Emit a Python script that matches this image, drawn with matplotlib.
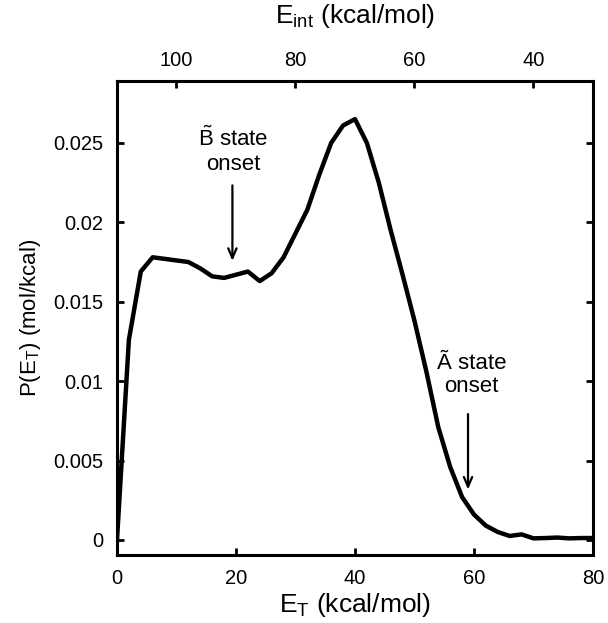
import matplotlib
matplotlib.use('Agg')
import matplotlib.pyplot as plt
from matplotlib.ticker import FormatStrFormatter

plt.rcParams['font.family'] = ['Liberation Sans', 'DejaVu Sans']
plt.rcParams['mathtext.fontset'] = 'custom'
plt.rcParams['mathtext.rm'] = 'Liberation Sans'
plt.rcParams['mathtext.it'] = 'Liberation Sans'

# translational energy distribution
e_t = [0, 2, 4, 6, 8, 10, 12, 14, 16, 18, 20, 22, 24, 26, 28, 30, 32, 34, 36, 38, 40,
       42, 44, 46, 48, 50, 52, 54, 56, 58, 60, 62, 64, 66, 68, 70, 72, 74, 76, 78, 80]
p_et = [0, 0.0126, 0.0169, 0.0178, 0.0177, 0.0176, 0.0175, 0.0171, 0.0166, 0.0165, 0.0167,
        0.0169, 0.0163, 0.0168, 0.0178, 0.0193, 0.0208, 0.0230, 0.0250, 0.0261, 0.0265,
        0.0250, 0.0225, 0.0195, 0.0167, 0.0138, 0.0106, 0.0071, 0.0046, 0.0027, 0.0016,
        0.0009, 0.0005, 0.00025, 0.00035, 0.0001, 0.00012, 0.00015, 0.0001, 0.00012, 0.00012]

e_total = 110  # E_int = e_total - E_T
yticks = [0, 0.005, 0.01, 0.015, 0.02, 0.025]
top_ticks = [100, 80, 60, 40]

fig = plt.figure(figsize=(6.08, 6.23), dpi=100)
ax = fig.add_axes([0.1924, 0.1091, 0.7829, 0.7609])

ax.plot(e_t, p_et, color='black', lw=3.2)
ax.set_xlim(0, 80)
ax.set_ylim(-0.00095, 0.0289)
ax.set_xticks([0, 20, 40, 60, 80])
ax.set_yticks(yticks)
ax.yaxis.set_major_formatter(FormatStrFormatter('%g'))
ax.tick_params(direction='in', length=5, width=2, labelsize=14.5, pad=10,
               right=True, top=False)
for sp in ax.spines.values():
    sp.set_linewidth(2.2)

ax.set_xlabel(r'E$_\mathregular{T}$ (kcal/mol)', fontsize=19, labelpad=2)
ax.set_ylabel(r'P(E$_\mathregular{T}$) (mol/kcal)', fontsize=16, labelpad=7)

top = ax.secondary_xaxis('top', functions=(lambda x: e_total - x, lambda x: e_total - x))
top.set_xticks(top_ticks)
top.tick_params(direction='in', length=5, width=2, labelsize=14.5, pad=8)
top.set_xlabel(r'E$_\mathregular{int}$ (kcal/mol)', fontsize=19, labelpad=20)

arrow = dict(arrowstyle='->, head_length=0.7, head_width=0.3', lw=1.6, color='black')
ax.annotate('', xy=(19.4, 0.0174), xytext=(19.4, 0.0225), arrowprops=arrow)
ax.text(19.6, 0.0245, r'$\mathregular{\tilde{B}}$ state' + '\nonset', ha='center',
        va='center', fontsize=16, linespacing=1.15)
ax.annotate('', xy=(59.0, 0.0030), xytext=(59.0, 0.0081), arrowprops=arrow)
ax.text(59.6, 0.0104, '\u00c3 state\nonset', ha='center', va='center', fontsize=16,
        linespacing=1.15)

fig.savefig('out.png', dpi=100)
